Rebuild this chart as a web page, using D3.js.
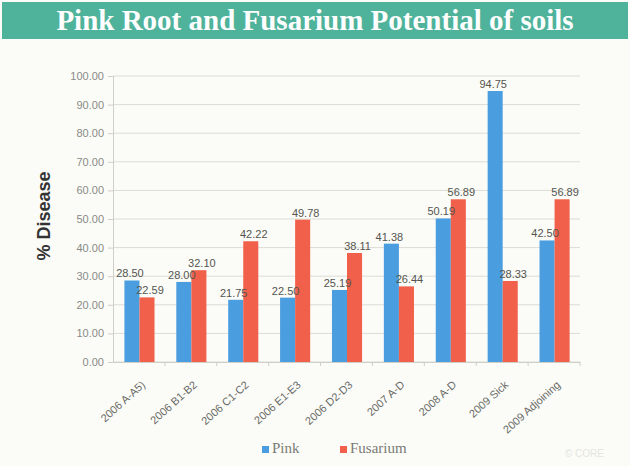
<!DOCTYPE html>
<html>
<head>
<meta charset="utf-8">
<script src="https://cdn.jsdelivr.net/npm/d3@7"></script>
<style>
  body { margin: 0; background: #fbfcf8; }
  svg { display: block; }
</style>
</head>
<body>
<svg id="chart" width="630" height="466"></svg>
<script>
var categories = ["2006 A-A5)", "2006 B1-B2", "2006 C1-C2", "2006 E1-E3", "2006 D2-D3",
                  "2007 A-D", "2008 A-D", "2009 Sick", "2009 Adjoining"];
var pinkValues = [28.50, 28.00, 21.75, 22.50, 25.19, 41.38, 50.19, 94.75, 42.50];
var fusariumValues = [22.59, 32.10, 42.22, 49.78, 38.11, 26.44, 56.89, 28.33, 56.89];
var seriesNames = ["Pink", "Fusarium"];
var yTicks = [0, 10, 20, 30, 40, 50, 60, 70, 80, 90, 100];

var width = 630, height = 466
var margin = { top: 76, left: 113, right: 50, bottom: 104 }
var innerW = width - margin.left - margin.right,
    innerH = height - margin.top - margin.bottom

var color = d3.scaleOrdinal().domain(seriesNames).range(["#4a9ee0", "#f0604a"])

var svg = d3.select("#chart")

// title band
svg.append("rect")
    .attr("x", 2).attr("y", 2)
    .attr("width", 626).attr("height", 37)
    .attr("fill", "#4fb39c")
svg.append("text")
    .attr("x", 315).attr("y", 30)
    .attr("text-anchor", "middle")
    .attr("font-family", "Liberation Serif, serif")
    .attr("font-weight", "bold")
    .attr("font-size", "29px")
    .attr("fill", "#fff")
    .text("Pink Root and Fusarium Potential of soils")

var g = svg.append("g")
    .attr("transform", "translate(" + margin.left + "," + margin.top + ")")

var x = d3.scaleBand().domain(categories).range([0, innerW])
var xs = d3.scaleBand().domain(seriesNames).range([x.bandwidth() * 0.22, x.bandwidth() * 0.8])
var y = d3.scaleLinear().domain([0, 100]).range([innerH, 0])

// gridlines
g.append("g").selectAll("line")
    .data(yTicks)
    .enter().append("line")
    .attr("x1", 0).attr("x2", innerW)
    .attr("y1", d => y(d)).attr("y2", d => y(d))
    .attr("stroke", "#dcdcd6")
    .attr("stroke-width", 1)

// y axis
var yAxis = g.append("g")
    .call(d3.axisLeft(y).tickValues(yTicks).tickFormat(d3.format(".2f")).tickSize(5).tickPadding(4))
yAxis.select(".domain").attr("stroke", "#cfcfc8")
yAxis.selectAll(".tick line").attr("stroke", "#cfcfc8")
yAxis.selectAll("text")
    .attr("font-family", "Liberation Sans, Arial, sans-serif")
    .attr("font-size", "11px")
    .attr("fill", "#8a8a86")

// x axis
var xAxis = g.append("g")
    .attr("transform", "translate(0," + innerH + ")")
    .call(d3.axisBottom(x).tickSize(0).tickPadding(8))
xAxis.select(".domain").attr("stroke", "#cfcfc8")
xAxis.selectAll("text")
    .attr("font-family", "Liberation Sans, Arial, sans-serif")
    .attr("font-size", "11px")
    .attr("fill", "#6a6a66")
    .attr("text-anchor", "end")
    .attr("transform", "translate(-1,15) rotate(-42)")
    .attr("dy", "0.35em")

// small tick marks between categories
g.append("g").selectAll("line")
    .data(categories)
    .enter().append("line")
    .attr("x1", d => x(d) + x.bandwidth()).attr("x2", d => x(d) + x.bandwidth())
    .attr("y1", innerH).attr("y2", innerH + 4)
    .attr("stroke", "#cfcfc8")

var rows = categories.map(function(c, i) {
    return { cat: c, values: [
        { key: "Pink", value: pinkValues[i] },
        { key: "Fusarium", value: fusariumValues[i] }
    ] }
})

var groups = g.selectAll(".grp")
    .data(rows)
    .enter().append("g")
    .attr("class", "grp")
    .attr("transform", d => "translate(" + x(d.cat) + ",0)")

groups.selectAll("rect")
    .data(d => d.values)
    .enter().append("rect")
    .attr("x", d => xs(d.key))
    .attr("width", xs.bandwidth())
    .attr("y", d => y(d.value))
    .attr("height", d => innerH - y(d.value))
    .attr("fill", d => color(d.key))

groups.selectAll(".lbl")
    .data(d => d.values)
    .enter().append("text")
    .attr("class", "lbl")
    .attr("x", d => xs(d.key) + xs.bandwidth() / 2 + (d.key === "Pink" ? -2 : 3))
    .attr("y", d => y(d.value) - 3)
    .attr("text-anchor", "middle")
    .attr("font-family", "Liberation Sans, Arial, sans-serif")
    .attr("font-size", "11px")
    .attr("fill", "#55554f")
    .text(d => d.value.toFixed(2))

// y label
svg.append("text")
    .attr("transform", "translate(50," + (margin.top + innerH / 2 - 3) + ") rotate(-90)")
    .attr("text-anchor", "middle")
    .attr("font-family", "Liberation Sans, Arial, sans-serif")
    .attr("font-weight", "bold")
    .attr("font-size", "18px")
    .attr("fill", "#333")
    .text("% Disease")

// legend
var legend = svg.append("g").attr("transform", "translate(262,450)")
seriesNames.forEach(function(name, i) {
    var item = legend.append("g").attr("transform", "translate(" + (i * 78) + ",0)")
    item.append("rect")
        .attr("x", 0).attr("y", -4)
        .attr("width", 7).attr("height", 7)
        .attr("fill", color(name))
    item.append("text")
        .attr("x", 10).attr("y", 0)
        .attr("dominant-baseline", "middle")
        .attr("font-family", "Liberation Serif, serif")
        .attr("font-size", "15px")
        .attr("fill", "#7a7a74")
        .text(name)
})

// faint watermark
svg.append("text")
    .attr("x", 604).attr("y", 457)
    .attr("text-anchor", "end")
    .attr("font-family", "Liberation Sans, Arial, sans-serif")
    .attr("font-size", "10px")
    .attr("fill", "#e4e4de")
    .text("© CORE")
</script>
</body>
</html>
